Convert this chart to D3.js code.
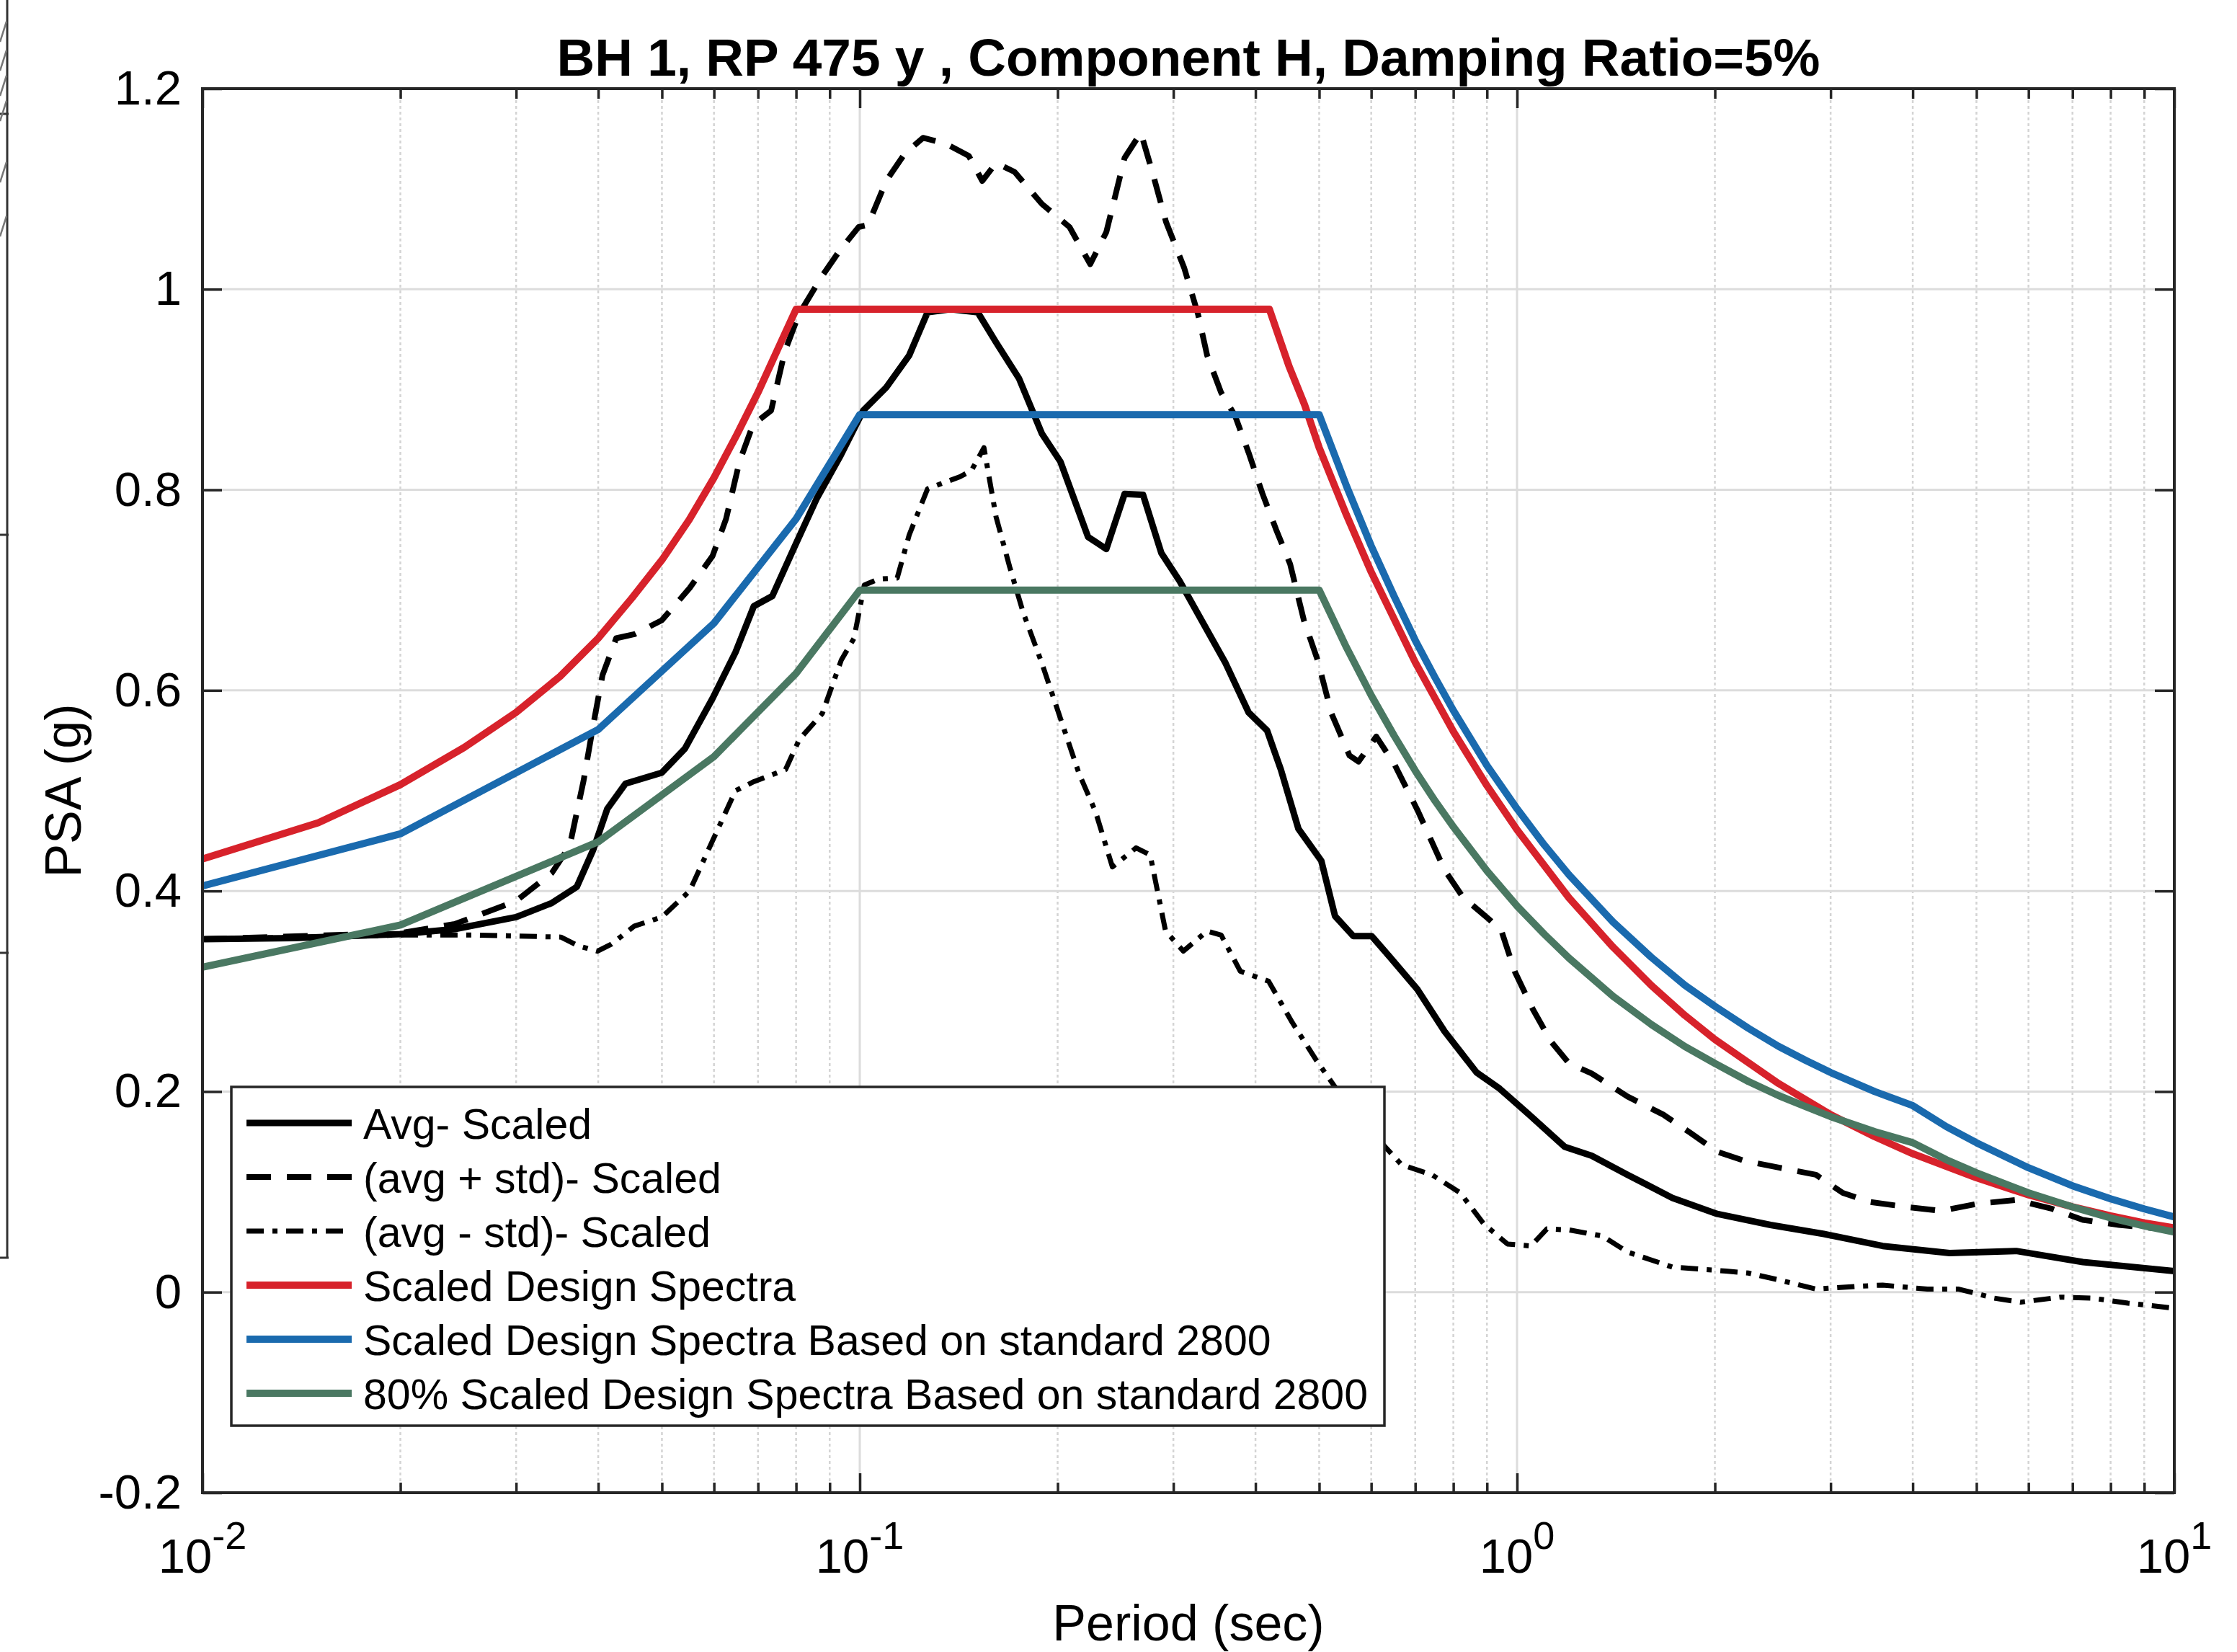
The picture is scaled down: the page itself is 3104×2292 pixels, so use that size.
<!DOCTYPE html>
<html>
<head>
<meta charset="utf-8">
<script src="https://cdn.jsdelivr.net/npm/d3@7"></script>
<style>
  html, body { margin: 0; padding: 0; background: #ffffff; }
  svg { display: block; }
  text { font-family: "Liberation Sans", Arial, Helvetica, sans-serif; fill: #000; }
</style>
</head>
<body>
<svg id="chart" width="3104" height="2292"></svg>
<script>
// ---------------- data ----------------
const titleText = "BH 1, RP 475 y , Component H, Damping Ratio=5%";
const xLabelText = "Period (sec)";
const yLabelText = "PSA (g)";

const seriesNames = [
  "Avg- Scaled",
  "(avg + std)- Scaled",
  "(avg - std)- Scaled",
  "Scaled Design Spectra",
  "Scaled Design Spectra Based on standard 2800",
  "80% Scaled Design Spectra Based on standard 2800"
];

const yTickValues = [-0.2, 0, 0.2, 0.4, 0.6, 0.8, 1, 1.2];
const yTickLabels = ["-0.2", "0", "0.2", "0.4", "0.6", "0.8", "1", "1.2"];
const xDecades = [0.01, 0.1, 1, 10];
const xDecadeExp = ["-2", "-1", "0", "1"];

// Avg- Scaled
const avgT = [0.01,0.0138,0.02,0.0242,0.03,0.034,0.0371,0.0393,0.0413,0.044,0.05,0.0542,0.0597,0.0647,0.069,0.0736,0.0798,0.0861,0.0933,0.1012,0.1097,0.1189,0.1268,0.1374,0.1512,0.1612,0.1747,0.1893,0.202,0.2225,0.2372,0.2529,0.2698,0.2876,0.3067,0.3324,0.3603,0.3905,0.4166,0.4372,0.4649,0.5038,0.5285,0.5635,0.601,0.6408,0.7051,0.7759,0.868,0.9406,1.043,1.181,1.299,1.473,1.723,2.016,2.43,2.93,3.6,4.55,5.75,7.26,10];
const avgV = [0.352,0.353,0.357,0.362,0.374,0.388,0.404,0.441,0.482,0.507,0.518,0.542,0.592,0.638,0.684,0.694,0.745,0.792,0.833,0.879,0.902,0.934,0.977,0.980,0.977,0.947,0.911,0.856,0.828,0.753,0.741,0.796,0.795,0.737,0.709,0.668,0.627,0.578,0.560,0.521,0.462,0.430,0.375,0.355,0.355,0.334,0.302,0.260,0.219,0.203,0.177,0.145,0.136,0.117,0.094,0.078,0.067,0.058,0.046,0.039,0.041,0.030,0.021];

// (avg + std)- Scaled
const plusT = [0.01,0.02,0.0242,0.03,0.034,0.0362,0.038,0.0393,0.0406,0.0426,0.0454,0.05,0.0551,0.0597,0.0626,0.0656,0.0688,0.0733,0.0769,0.0808,0.0874,0.0933,0.0996,0.1029,0.1097,0.117,0.1248,0.1352,0.1465,0.1536,0.1612,0.172,0.1893,0.2085,0.2242,0.2372,0.2529,0.2677,0.2787,0.2924,0.3117,0.3271,0.3377,0.3546,0.3723,0.3905,0.41,0.4302,0.4516,0.4739,0.4974,0.522,0.5561,0.5739,0.6107,0.6512,0.7051,0.7759,0.827,0.9095,0.947,0.993,1.057,1.126,1.2,1.299,1.473,1.669,1.834,2.016,2.216,2.51,2.85,3.13,3.44,3.9,4.42,5.01,5.75,6.52,7.26,8.24,10];
const plusV = [0.352,0.358,0.367,0.390,0.418,0.445,0.510,0.565,0.615,0.652,0.656,0.670,0.702,0.734,0.771,0.828,0.865,0.879,0.938,0.975,1.012,1.039,1.062,1.064,1.108,1.135,1.151,1.145,1.133,1.108,1.126,1.117,1.085,1.062,1.025,1.057,1.131,1.156,1.117,1.067,1.021,0.975,0.934,0.897,0.874,0.837,0.796,0.760,0.726,0.670,0.630,0.577,0.535,0.529,0.554,0.526,0.481,0.421,0.394,0.371,0.360,0.319,0.282,0.250,0.228,0.218,0.195,0.177,0.159,0.140,0.131,0.124,0.117,0.099,0.090,0.085,0.081,0.088,0.092,0.083,0.072,0.067,0.062];

// (avg - std)- Scaled
const minusT = [0.01,0.02,0.0263,0.0351,0.0374,0.0399,0.0419,0.0454,0.05,0.0551,0.0597,0.0647,0.069,0.0771,0.0809,0.0877,0.0937,0.098,0.1016,0.1067,0.114,0.1189,0.1268,0.142,0.1478,0.1545,0.1612,0.1691,0.1774,0.1893,0.202,0.2156,0.2284,0.2423,0.2633,0.2766,0.2919,0.3107,0.3376,0.3547,0.3792,0.4188,0.4549,0.4941,0.528,0.6,0.6674,0.7422,0.8196,0.8902,0.9669,1.05,1.11,1.2,1.348,1.473,1.723,2.08,2.25,2.51,2.85,3.33,3.6,4.21,4.7,5.32,5.84,6.71,7.5,8.5,10];
const minusV = [0.352,0.356,0.356,0.354,0.345,0.340,0.347,0.365,0.374,0.400,0.450,0.500,0.509,0.521,0.551,0.577,0.630,0.652,0.705,0.711,0.712,0.755,0.801,0.813,0.819,0.842,0.773,0.723,0.677,0.627,0.572,0.517,0.479,0.424,0.443,0.436,0.360,0.340,0.360,0.356,0.320,0.310,0.269,0.232,0.205,0.160,0.127,0.117,0.099,0.068,0.048,0.046,0.063,0.062,0.056,0.040,0.025,0.021,0.019,0.012,0.003,0.006,0.007,0.003,0.003,-0.006,-0.010,-0.005,-0.006,-0.011,-0.016];

// Scaled Design Spectra
const redT = [0.01,0.015,0.02,0.025,0.03,0.035,0.04,0.045,0.05,0.055,0.06,0.065,0.07,0.075,0.08,0.42,0.45,0.475,0.5,0.55,0.6,0.7,0.8,0.9,1.0,1.2,1.4,1.6,1.8,2.0,2.5,3.0,3.5,4.0,5,6,7,8,9,10];
const redV = [0.432,0.468,0.506,0.543,0.578,0.614,0.652,0.692,0.730,0.770,0.812,0.855,0.897,0.940,0.980,0.980,0.923,0.885,0.842,0.775,0.718,0.628,0.559,0.505,0.461,0.393,0.344,0.306,0.276,0.252,0.208,0.177,0.155,0.138,0.114,0.097,0.085,0.076,0.069,0.064];

// Scaled Design Spectra Based on standard 2800
const blueT = [0.01,0.02,0.04,0.06,0.08,0.1,0.5,0.55,0.6,0.65,0.7,0.75,0.8,0.9,1.0,1.1,1.2,1.4,1.6,1.8,2.0,2.25,2.5,2.75,3.0,3.5,4.0,4.5,5,6,7,8,9,10];
const blueV = [0.405,0.457,0.561,0.667,0.771,0.875,0.875,0.804,0.744,0.694,0.650,0.613,0.580,0.525,0.482,0.446,0.416,0.369,0.334,0.306,0.285,0.263,0.245,0.231,0.219,0.200,0.186,0.165,0.149,0.124,0.106,0.093,0.083,0.075];

// 80% Scaled Design Spectra Based on standard 2800
const greenT = [0.01,0.02,0.04,0.06,0.08,0.1,0.5,0.55,0.6,0.65,0.7,0.75,0.8,0.9,1.0,1.1,1.2,1.4,1.6,1.8,2.0,2.25,2.5,2.75,3.0,3.5,4.0,4.5,5,6,7,8,9,10];
const greenV = [0.324,0.366,0.449,0.534,0.617,0.700,0.700,0.643,0.595,0.555,0.520,0.490,0.464,0.420,0.385,0.357,0.333,0.295,0.267,0.245,0.228,0.210,0.196,0.185,0.175,0.160,0.149,0.132,0.119,0.099,0.085,0.074,0.066,0.060];

// ---------------- layout ----------------
const L = 281, R = 3017, T = 123, B = 2071;
const svg = d3.select("#chart");
const x = d3.scaleLog().domain([0.01, 10]).range([L, R]);
const y = d3.scaleLinear().domain([-0.2, 1.2]).range([B, T]);

const axisColor = "#262626";
const gridColor = "#dcdcdc";

svg.append("rect").attr("x", 0).attr("y", 0).attr("width", 3104).attr("height", 2292).attr("fill", "#fff");

// left-edge remnant of neighbouring figure
const edge = svg.append("g").attr("stroke", "#333").attr("fill", "none");
edge.append("line").attr("x1", 10).attr("x2", 10).attr("y1", 0).attr("y2", 1745).attr("stroke-width", 3);
[158, 742, 1322, 1745].forEach(v => edge.append("line").attr("x1", 0).attr("x2", 12).attr("y1", v).attr("y2", v).attr("stroke-width", 3));
[30, 70, 105, 140, 225, 300].forEach(v => edge.append("line").attr("x1", 0).attr("x2", 9).attr("y1", v + 28).attr("y2", v).attr("stroke", "#777").attr("stroke-width", 2.5));

// plot background
svg.append("rect").attr("x", L).attr("y", T).attr("width", R - L).attr("height", B - T).attr("fill", "#fff");

// grid
const grid = svg.append("g");
const allXTicks = x.ticks();
const minorXTicks = allXTicks.filter(t => !xDecades.some(d => Math.abs(d - t) < 1e-9));
grid.selectAll("line.minor").data(minorXTicks).join("line")
  .attr("x1", d => x(d)).attr("x2", d => x(d)).attr("y1", T).attr("y2", B)
  .attr("stroke", "#d4d4d4").attr("stroke-width", 2.5).attr("stroke-dasharray", "4,4");
grid.selectAll("line.majx").data(xDecades).join("line")
  .attr("x1", d => x(d)).attr("x2", d => x(d)).attr("y1", T).attr("y2", B)
  .attr("stroke", gridColor).attr("stroke-width", 3);
grid.selectAll("line.majy").data(yTickValues).join("line")
  .attr("x1", L).attr("x2", R).attr("y1", d => y(d)).attr("y2", d => y(d))
  .attr("stroke", gridColor).attr("stroke-width", 3);

// clip
svg.append("clipPath").attr("id", "clip").append("rect")
  .attr("x", L).attr("y", T).attr("width", R - L).attr("height", B - T);

const line = d3.line().x(d => x(d[0])).y(d => y(d[1]));
const plot = svg.append("g").attr("clip-path", "url(#clip)");

const styles = [
  { T: avgT,   V: avgV,   color: "#000000", width: 9,  dash: null },
  { T: plusT,  V: plusV,  color: "#000000", width: 8,  dash: "34,22" },
  { T: minusT, V: minusV, color: "#000000", width: 7,  dash: "24,12,7,12" },
  { T: redT,   V: redV,   color: "#d7222b", width: 10, dash: null },
  { T: blueT,  V: blueV,  color: "#1a6aae", width: 10, dash: null },
  { T: greenT, V: greenV, color: "#4a7862", width: 10, dash: null }
];

styles.forEach(s => {
  plot.append("path")
    .datum(d3.zip(s.T, s.V))
    .attr("d", line)
    .attr("fill", "none")
    .attr("stroke", s.color)
    .attr("stroke-width", s.width)
    .attr("stroke-linejoin", "round")
    .attr("stroke-dasharray", s.dash);
});

// axes (ticks inward, mirrored)
const axes = svg.append("g");
const styleAxis = g => {
  g.select(".domain").remove();
  g.selectAll(".tick line").attr("stroke", axisColor).attr("stroke-width", 3.5);
};
axes.append("g").attr("transform", `translate(${L},0)`)
  .call(d3.axisLeft(y).tickValues(yTickValues).tickSize(-27).tickPadding(29)
    .tickFormat((d, i) => yTickLabels[i]))
  .call(styleAxis)
  .call(g => g.selectAll("text").attr("font-size", 67).attr("font-family", "Liberation Sans, Arial, sans-serif").attr("fill", "#000"));
axes.append("g").attr("transform", `translate(${R},0)`)
  .call(d3.axisRight(y).tickValues(yTickValues).tickSize(-27).tickFormat(""))
  .call(styleAxis);
axes.append("g").attr("transform", `translate(0,${B})`)
  .call(d3.axisBottom(x).tickValues(xDecades).tickSize(-27).tickFormat(""))
  .call(styleAxis);
axes.append("g").attr("transform", `translate(0,${B})`)
  .call(d3.axisBottom(x).tickValues(minorXTicks).tickSize(-14).tickFormat(""))
  .call(styleAxis);
axes.append("g").attr("transform", `translate(0,${T})`)
  .call(d3.axisTop(x).tickValues(xDecades).tickSize(-27).tickFormat(""))
  .call(styleAxis);
axes.append("g").attr("transform", `translate(0,${T})`)
  .call(d3.axisTop(x).tickValues(minorXTicks).tickSize(-14).tickFormat(""))
  .call(styleAxis);

// box
svg.append("rect").attr("x", L).attr("y", T).attr("width", R - L).attr("height", B - T)
  .attr("fill", "none").attr("stroke", axisColor).attr("stroke-width", 4);

// x tick labels 10^n
const xl = svg.append("g");
xDecades.forEach((d, i) => {
  const t = xl.append("text").attr("x", x(d)).attr("y", 2182).attr("text-anchor", "middle").attr("font-size", 67);
  t.append("tspan").text("10");
  t.append("tspan").attr("dy", -33).attr("font-size", 54).text(xDecadeExp[i]);
});

// axis labels
svg.append("text").attr("x", (L + R) / 2).attr("y", 2276).attr("text-anchor", "middle")
  .attr("font-size", 70).text(xLabelText);
svg.append("text").attr("transform", `translate(112,${(T + B) / 2}) rotate(-90)`)
  .attr("text-anchor", "middle").attr("font-size", 70).text(yLabelText);

// title
svg.append("text").attr("x", (L + R) / 2).attr("y", 105).attr("text-anchor", "middle")
  .attr("font-size", 73).attr("font-weight", "bold").text(titleText);

// legend
const lg = svg.append("g");
lg.append("rect").attr("x", 321).attr("y", 1508).attr("width", 1600).attr("height", 470)
  .attr("fill", "#fff").attr("stroke", axisColor).attr("stroke-width", 3.5);
seriesNames.forEach((name, i) => {
  const base = 1580 + i * 75;
  const s = styles[i];
  lg.append("line").attr("x1", 342).attr("x2", 488).attr("y1", base - 22).attr("y2", base - 22)
    .attr("stroke", s.color).attr("stroke-width", s.width).attr("stroke-dasharray", s.dash);
  lg.append("text").attr("x", 504).attr("y", base).attr("font-size", 59).text(name);
});
</script>
</body>
</html>
